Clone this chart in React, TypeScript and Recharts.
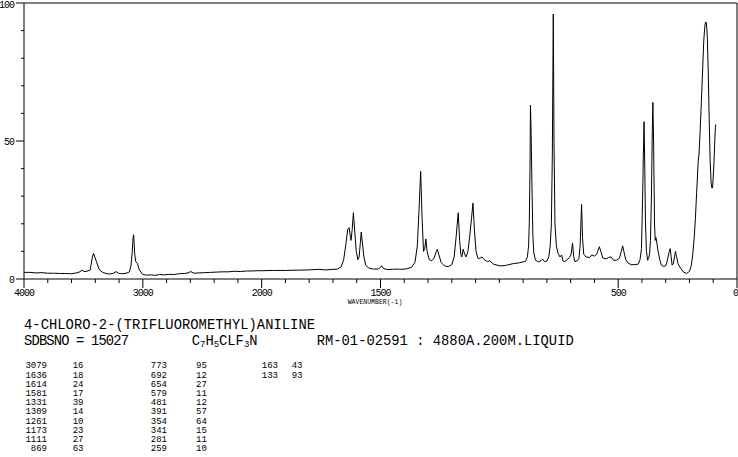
import React from "react";
import { LineChart, Line, XAxis, YAxis, ReferenceLine } from "recharts";

// spectrum trace (wavenumber in cm-1, relative intensity)
const wavenumber = [
  4000, 3950, 3900, 3850, 3800, 3750, 3700, 3650, 3600, 3560, 3530, 3513, 3495, 3470,
  3443, 3426, 3415, 3404, 3387, 3365, 3337, 3309, 3280, 3250, 3225, 3205, 3180, 3150,
  3125, 3113, 3099, 3090, 3082, 3077, 3069, 3060, 3046, 3029, 3002, 2970, 2930, 2900,
  2860, 2820, 2780, 2740, 2700, 2650, 2620, 2596, 2570, 2530, 2480, 2430, 2380, 2330,
  2280, 2230, 2180, 2130, 2080, 2040, 2000, 1950, 1900, 1850, 1800, 1760, 1730, 1700,
  1680, 1665, 1655, 1645, 1638, 1632, 1628, 1624, 1619, 1614, 1609, 1602, 1595, 1590,
  1585, 1581, 1576, 1570, 1562, 1550, 1530, 1510, 1500, 1495, 1488, 1470, 1450, 1430,
  1410, 1390, 1370, 1355, 1345, 1338, 1331, 1325, 1319, 1314, 1309, 1304, 1295, 1285,
  1275, 1265, 1261, 1255, 1245, 1230, 1215, 1200, 1190, 1182, 1173, 1167, 1162, 1158,
  1152, 1146, 1140, 1132, 1124, 1117, 1111, 1105, 1098, 1090, 1082, 1073, 1064, 1050,
  1040, 1025, 1000, 980, 960, 940, 920, 900, 890, 882, 877, 874, 871, 869, 866, 863,
  859, 855, 848, 835, 825, 818, 810, 800, 792, 786, 781, 777, 773, 770, 766, 760, 754,
  745, 738, 732, 725, 715, 705, 698, 692, 687, 682, 672, 665, 660, 654, 650, 645, 635,
  620, 611, 600, 590, 584, 579, 573, 565, 550, 540, 530, 520, 507, 495, 487, 481, 476,
  468, 459, 445, 430, 415, 408, 402, 397, 394, 391, 388, 385, 381, 376, 372, 368, 364,
  360, 357, 354, 351, 347, 344, 341, 337, 332, 325, 318, 308, 298, 290, 285, 281, 277,
  273, 268, 263, 259, 254, 248, 238, 225, 212, 200, 192, 186, 180, 175, 170, 166, 163,
  160, 156, 150, 145, 140, 136, 133, 129, 125, 121, 117, 113, 109, 106, 103, 100, 97,
  94, 91, 89,
];
const intensity = [
  2.4, 2.4, 2.2, 2.3, 2.1, 2.1, 2.0, 2.0, 1.9, 2.2, 2.6, 3.2, 2.7, 2.8,
  3.3, 7.6, 9.3, 8.0, 5.8, 3.3, 2.4, 2.0, 1.8, 2.0, 2.7, 2.1, 1.9, 2.0,
  2.3, 2.6, 5.0, 9.4, 15, 16, 9.4, 6.3, 5.7, 3.3, 1.7, 1.4, 1.5, 1.3,
  1.6, 1.5, 1.7, 1.6, 1.9, 2.0, 2.2, 2.7, 2.1, 2.2, 2.3, 2.4, 2.5, 2.6,
  2.6, 2.8, 2.7, 2.9, 2.9, 3.0, 3.0, 3.1, 3.1, 3.2, 3.3, 3.5, 3.3, 3.5,
  3.6, 4.5, 7, 13, 18, 18.6, 16, 14, 18, 24, 18, 10, 7, 8,
  13, 17, 13, 8, 5, 4, 3.6, 3.6, 4.2, 4.8, 3.8, 3.4, 3.5, 3.6,
  3.5, 3.7, 4.2, 6, 12, 25, 39, 22, 10, 11, 14.5, 10, 7, 6.6,
  7.5, 10, 10.8, 9, 6, 4.7, 4.5, 5.2, 8, 15, 24, 14, 9, 8,
  10.8, 9, 8, 10, 16, 22, 27.5, 18, 10, 7.5, 7.5, 8, 7, 6.3,
  6.6, 5.4, 4.8, 4.8, 5.2, 5.6, 5.8, 6.2, 6.4, 8, 12, 20, 40, 63, 52, 35,
  16, 9.5, 6.8, 6.2, 6.6, 7.2, 6.3, 6.5, 8, 12, 20, 45, 96, 50, 20, 12, 9.5,
  8, 8.7, 6.5, 6.3, 7, 7.8, 9, 13, 8, 6.3, 6.6, 7.5, 12, 27, 15, 9, 8,
  7.8, 8.7, 8.3, 9, 10.5, 11.7, 10, 7.6, 7.3, 7.8, 8, 6.8, 6.8, 7.5, 10, 12, 10,
  7, 5.8, 5.2, 5.2, 5.4, 7, 11, 30, 45, 57, 40, 20, 10, 6.8, 7.5, 9, 14,
  30, 50, 64, 50, 20, 14, 15, 13, 10, 7, 5, 4.5, 5, 8, 10, 11, 8,
  5, 5.5, 8, 10, 8, 5.5, 4, 2.5, 2, 2.8, 5, 9, 15, 22, 31, 38, 43,
  45, 52, 64, 75, 86, 91, 93, 93, 88, 75, 58, 43, 35, 33, 33, 37, 42,
  49, 55, 56,
];

// peak table printed under the chart
const peakWavenumbers = [
  3079, 1636, 1614, 1581, 1331, 1309, 1261, 1173, 1111, 869,
  773, 692, 654, 579, 481, 391, 354, 341, 281, 259,
  163, 133,
];
const peakIntensities = [
  16, 18, 24, 17, 39, 14, 10, 23, 27, 63,
  95, 12, 27, 11, 12, 57, 64, 15, 11, 10,
  43, 93,
];

const upperTicks = [4000, 3800, 3600, 3400, 3200, 3000, 2800, 2600, 2400, 2200, 2000];
const lowerTicks = [
  1900, 1800, 1700, 1600, 1500, 1400, 1300, 1200, 1100, 1000,
  900, 800, 700, 600, 500, 400, 300, 200, 100, 0,
];
const majorXTicks = [4000, 3000, 2000, 1500, 500, 0];
const yTicks = [0, 10, 20, 30, 40, 50, 60, 70, 80, 90, 100];
const majorYTicks = [0, 50, 100];

// the x axis is compressed 2:1 above 2000 cm-1
const toPos = (w: number) => (w <= 2000 ? w : 2000 + (w - 2000) / 2);
const fromPos = (p: number) => Math.round(p <= 2000 ? p : 2000 + (p - 2000) * 2);

const data = wavenumber.map((w, i) => ({ pos: toPos(w), value: intensity[i] }));
const xTickPositions = [...upperTicks, ...lowerTicks].map(toPos);

const FONT = "'Liberation Mono', 'DejaVu Sans Mono', monospace";

const XTick = (props: any) => {
  const { x, y, payload } = props;
  const w = fromPos(payload.value);
  const major = majorXTicks.includes(w);
  return (
    <g>
      <line x1={x} x2={x} y1={y} y2={y + (major ? 9 : 4)} stroke="#000" strokeWidth={1} />
      {major && (
        <text
          x={w === 0 ? 738 : x}
          y={y + 17}
          textAnchor={w === 0 ? "end" : "middle"}
          fontFamily={FONT}
          fontSize={10}
          letterSpacing={-1}
          fill="#000"
        >
          {w}
        </text>
      )}
    </g>
  );
};

const YTick = (props: any) => {
  const { x, y, payload } = props;
  const major = majorYTicks.includes(payload.value);
  return (
    <g>
      <line x1={x - (major ? 8 : 3)} x2={x} y1={y} y2={y} stroke="#000" strokeWidth={1} />
      {major && (
        <text
          x={x - 10}
          y={payload.value === 100 ? y + 4.5 : y + 3.5}
          textAnchor="end"
          fontFamily={FONT}
          fontSize={10}
          letterSpacing={-1}
          fill="#000"
        >
          {payload.value}
        </text>
      )}
    </g>
  );
};

const groupCols = [
  { end: 47, left: 72.7 },
  { end: 167, left: 196 },
  { end: 278, left: 291.7 },
];

export default function App() {
  return (
    <div style={{ position: "absolute", left: 0, top: 0, width: 738, height: 457, background: "#fff" }}>
      <LineChart
        width={738}
        height={457}
        data={data}
        margin={{ top: 3, right: 1, left: 0, bottom: 148 }}
      >
        <XAxis
          dataKey="pos"
          type="number"
          domain={[0, 3000]}
          reversed
          ticks={xTickPositions}
          interval={0}
          tickSize={0}
          tickMargin={0}
          tick={<XTick />}
          axisLine={{ stroke: "#000" }}
          height={30}
        />
        <YAxis
          type="number"
          domain={[0, 100]}
          ticks={yTicks}
          interval={0}
          tickSize={0}
          tickMargin={0}
          tick={<YTick />}
          axisLine={{ stroke: "#000" }}
          width={24}
        />
        <ReferenceLine y={100} stroke="#000" strokeWidth={1} />
        <ReferenceLine x={0} stroke="#000" strokeWidth={1} />
        <Line
          type="linear"
          dataKey="value"
          stroke="#000"
          strokeWidth={1}
          dot={false}
          isAnimationActive={false}
        />
      </LineChart>
      <svg
        width={738}
        height={457}
        style={{ position: "absolute", left: 0, top: 0, pointerEvents: "none" }}
        fontFamily={FONT}
        fill="#000"
      >
        <text x={375} y={304} textAnchor="middle" fontSize={6.5}>
          WAVENUMBER(-1)
        </text>
        <text x={24} y={329} fontSize={13.8} textLength={291} lengthAdjust="spacing">
          4-CHLORO-2-(TRIFLUOROMETHYL)ANILINE
        </text>
        <text x={24} y={345} fontSize={13.8} textLength={105} lengthAdjust="spacing">
          SDBSNO = 15027
        </text>
        <text x={191.7} y={345} fontSize={13.8}>
          C<tspan fontSize={9} dy={2}>7</tspan>
          <tspan dy={-2}>H</tspan>
          <tspan fontSize={9} dy={2}>5</tspan>
          <tspan dy={-2}>CLF</tspan>
          <tspan fontSize={9} dy={2}>3</tspan>
          <tspan dy={-2}>N</tspan>
        </text>
        <text x={316.7} y={345} fontSize={13.8} textLength={257} lengthAdjust="spacing">
          RM-01-02591 : 4880A.200M.LIQUID
        </text>
        {peakWavenumbers.map((w, i) => {
          const g = groupCols[Math.floor(i / 10)];
          const y = 368.3 + (i % 10) * 9.2;
          return (
            <g key={i} fontSize={9}>
              <text x={g.end} y={y} textAnchor="end">
                {w}
              </text>
              <text x={g.left} y={y}>
                {peakIntensities[i]}
              </text>
            </g>
          );
        })}
      </svg>
    </div>
  );
}
